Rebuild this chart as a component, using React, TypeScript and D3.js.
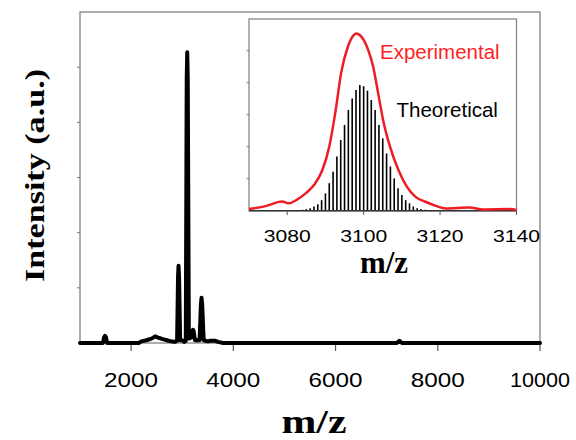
import * as d3 from "d3";

// main spectrum: [m/z, intensity]
const spectrumMz = [1000, 1450, 1470, 1490, 1510, 1530, 2150, 2200, 2300, 2400, 2470, 2550, 2620, 2700, 2780, 2850, 2900, 2918, 2928, 2938, 2960, 3000, 3040, 3070, 3088, 3098, 3108, 3130, 3180, 3198, 3210, 3222, 3250, 3340, 3366, 3378, 3390, 3420, 3500, 3550, 3650, 3700, 3800, 7200, 7250, 7300, 10000];
const spectrumInt = [0, 0, 0.1, 0.13, 0.1, 0, 0, 0.03, 0.05, 0.08, 0.12, 0.09, 0.07, 0.05, 0.03, 0.02, 0.04, 1.2, 1.4, 1.2, 0.05, 0.05, 0.02, 0.04, 4.8, 5.27, 4.8, 0.08, 0.1, 0.22, 0.24, 0.22, 0.05, 0.05, 0.7, 0.82, 0.7, 0.05, 0.03, 0.04, 0.04, 0.02, 0, 0, 0.04, 0, 0];

// inset: experimental envelope
const expMz = [3070, 3074.6, 3078.6, 3080.4, 3082.6, 3084.8, 3087, 3089.2, 3091, 3092.7, 3094.1, 3095.8, 3097.2, 3098.1, 3099.4, 3101.2, 3102.5, 3103.8, 3105.1, 3106.9, 3109.1, 3111.3, 3113.5, 3116.2, 3118.9, 3121.5, 3127.7, 3131.2, 3138.3, 3140];
const expInt = [0.05, 0.15, 0.29, 0.23, 0.35, 0.54, 0.8, 1.27, 2.0, 3.15, 4.3, 5.1, 5.46, 5.54, 5.44, 5.02, 4.5, 3.67, 2.83, 2.0, 1.27, 0.75, 0.44, 0.28, 0.15, 0.07, 0.1, 0.04, 0.05, 0.02];

// inset: theoretical isotope sticks
const theoMz = [3083, 3084, 3085, 3086, 3087, 3088, 3089, 3090, 3091, 3092, 3093, 3094, 3095, 3096, 3097, 3098, 3099, 3100, 3101, 3102, 3103, 3104, 3105, 3106, 3107, 3108, 3109, 3110, 3111, 3112, 3113, 3114, 3115, 3116, 3117];
const theoInt = [0.02, 0.03, 0.05, 0.08, 0.13, 0.2, 0.33, 0.54, 0.86, 1.22, 1.69, 2.21, 2.68, 3.15, 3.51, 3.77, 3.93, 3.89, 3.75, 3.46, 3.15, 2.68, 2.26, 1.79, 1.38, 1.01, 0.7, 0.49, 0.33, 0.23, 0.13, 0.08, 0.05, 0.03, 0.02];

const mainTicks = [2000, 4000, 6000, 8000, 10000];
const insetTicks = [3080, 3100, 3120, 3140];
const yTicks = [1, 2, 3, 4, 5];

const sans = "Arial, 'Liberation Sans', sans-serif";
const serif = "'Times New Roman', 'Liberation Serif', serif";

export default function App() {
  const x = d3.scaleLinear().domain([1000, 10000]).range([80, 540]);
  const y = d3.scaleLinear().domain([0, 6]).range([343, 12]);
  const ix = d3.scaleLinear().domain([3070, 3140]).range([249, 516.5]);
  const iy = d3.scaleLinear().domain([0, 6]).range([210.7, 18.7]);

  const mainLine = d3
    .line<number>()
    .x((d) => x(d))
    .y((_, i) => y(spectrumInt[i]))(spectrumMz);

  const expLine = d3
    .line<number>()
    .x((d) => ix(d))
    .y((_, i) => iy(expInt[i]))
    .curve(d3.curveMonotoneX)(expMz);

  return (
    <svg
      width={576}
      height={440}
      style={{ position: "absolute", left: 0, top: 0, background: "#fff" }}
    >
      {/* main frame */}
      <rect x={80} y={12} width={460} height={331} fill="none" stroke="#777" strokeWidth={1.2} />
      {yTicks.map((t) => (
        <line key={t} x1={77} x2={80} y1={y(t)} y2={y(t)} stroke="#777" strokeWidth={1} />
      ))}
      {mainTicks.map((t) => (
        <g key={t}>
          <line x1={x(t)} x2={x(t)} y1={343} y2={351} stroke="#555" strokeWidth={1.2} />
          <text
            x={x(t)}
            y={387}
            fontFamily={sans}
            fontSize={20.5}
            textAnchor="middle"
            textLength={t >= 10000 ? 60 : 54}
            lengthAdjust="spacingAndGlyphs"
          >
            {t}
          </text>
        </g>
      ))}
      <path d={mainLine ?? ""} fill="none" stroke="#000" strokeWidth={4} strokeLinejoin="round" strokeLinecap="round" />

      <text
        transform="translate(43.5,175.5) rotate(-90)"
        fontFamily={serif}
        fontWeight="bold"
        fontSize={28}
        textAnchor="middle"
        textLength={213}
        lengthAdjust="spacingAndGlyphs"
      >
        Intensity (a.u.)
      </text>
      <text
        x={314}
        y={433}
        fontFamily={serif}
        fontWeight="bold"
        fontSize={34}
        textAnchor="middle"
        textLength={65}
        lengthAdjust="spacingAndGlyphs"
      >
        m/z
      </text>

      {/* inset */}
      <rect x={249} y={19} width={267.5} height={191.7} fill="#fff" stroke="#888" strokeWidth={1.3} />
      {yTicks.map((t) => (
        <line key={t} x1={246.5} x2={249} y1={iy(t)} y2={iy(t)} stroke="#777" strokeWidth={1} />
      ))}
      {theoMz.map((m, i) => (
        <line key={m} x1={ix(m)} x2={ix(m)} y1={iy(0)} y2={iy(theoInt[i])} stroke="#000" strokeWidth={1.6} />
      ))}
      <line x1={249} x2={516.5} y1={210.7} y2={210.7} stroke="#333" strokeWidth={1.5} />
      {insetTicks.map((t) => (
        <g key={t}>
          <line x1={ix(t)} x2={ix(t)} y1={210.7} y2={215} stroke="#555" strokeWidth={1} />
          <text
            x={ix(t)}
            y={242}
            fontFamily={sans}
            fontSize={17}
            textAnchor="middle"
            textLength={47}
            lengthAdjust="spacingAndGlyphs"
          >
            {t}
          </text>
        </g>
      ))}
      <path d={expLine ?? ""} fill="none" stroke="#ee1c25" strokeWidth={2.5} strokeLinejoin="round" />
      <text x={380} y={59.3} fontFamily={sans} fontSize={20.5} fill="#ff1f1f">
        Experimental
      </text>
      <text x={396.5} y={116.7} fontFamily={sans} fontSize={20.5} fill="#000">
        Theoretical
      </text>
      <text
        x={384}
        y={273}
        fontFamily={serif}
        fontWeight="bold"
        fontSize={31}
        textAnchor="middle"
        textLength={48}
        lengthAdjust="spacingAndGlyphs"
      >
        m/z
      </text>
    </svg>
  );
}
